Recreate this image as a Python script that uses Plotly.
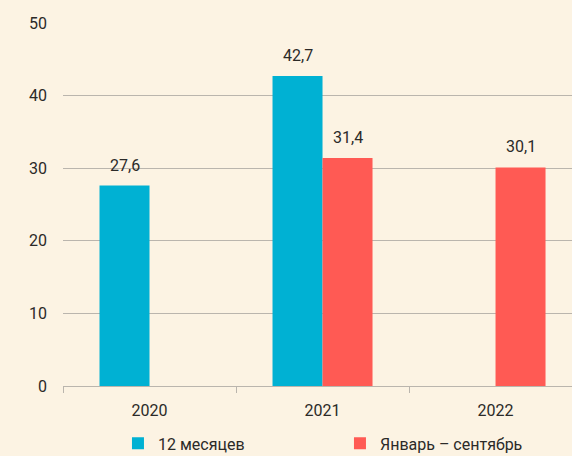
import plotly.graph_objects as go

years = ["2020", "2021", "2022"]
series_names = ["12 месяцев", "Январь – сентябрь"]
values_12m = [27.6, 42.7, None]
values_jan_sep = [None, 31.4, 30.1]
y_ticks = [0, 10, 20, 30, 40, 50]

colors = ["#00B1D3", "#FF5A54"]
bg = "#FCF3E3"
text_color = "#2B2A28"
grid_color = "#BAB5AD"
font_family = "Roboto"

fig = go.Figure()
for name, vals, col in zip(series_names, [values_12m, values_jan_sep], colors):
    fig.add_trace(go.Bar(x=years, y=vals, name=name, marker=dict(color=col, line=dict(width=0))))

# value labels (category index positions, shifted to each bar of the group)
bar_half_px = 25
for si, vals in enumerate([values_12m, values_jan_sep]):
    shift = -bar_half_px if si == 0 else bar_half_px
    for i, v in enumerate(vals):
        if v is None:
            continue
        fig.add_annotation(xref="x", yref="y", x=i, y=v, text=f"{v:.1f}".replace(".", ","),
                           showarrow=False, xshift=shift, yshift=9, yanchor="bottom",
                           font=dict(size=16, color=text_color, family=font_family))

fig.update_layout(
    width=572, height=456,
    margin=dict(l=63, r=0, t=23, b=70, autoexpand=False),
    paper_bgcolor=bg, plot_bgcolor=bg,
    barmode="group", bargap=0.422, bargroupgap=0,
    separators=", ",
    font=dict(family=font_family, size=16, color=text_color),
    showlegend=True,
    legend=dict(orientation="h", x=0.108, xanchor="left", y=-0.158, yanchor="middle",
                entrywidth=177, entrywidthmode="pixels", bgcolor="rgba(0,0,0,0)",
                font=dict(size=16, color=text_color), traceorder="normal"),
)
fig.update_xaxes(type="category", range=[-0.5, 2.442], showgrid=False, zeroline=False,
                 showline=True, linecolor=grid_color, linewidth=1,
                 ticks="outside", tickson="boundaries", ticklen=6, tickcolor=grid_color,
                 ticklabelstandoff=10, tickfont=dict(size=16, color=text_color))
fig.update_yaxes(range=[0, 50], tickvals=y_ticks, showgrid=True, gridcolor=grid_color, gridwidth=1,
                 zeroline=False, showline=False, ticks="", ticklabelstandoff=15,
                 tickfont=dict(size=16, color=text_color))

fig.write_html("out.html", config={"displayModeBar": False},
               post_script="document.body.style.margin='0';document.body.style.overflow='hidden';")
